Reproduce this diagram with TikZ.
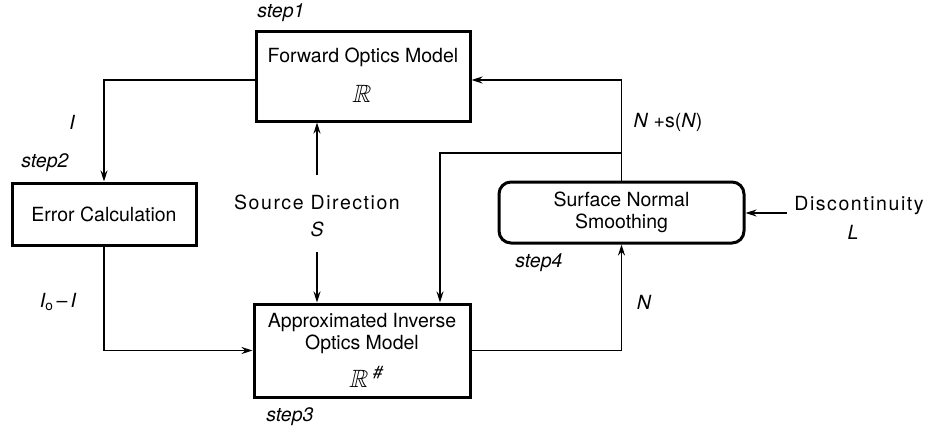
\documentclass[tikz,border=0pt]{standalone}
\usepackage{amssymb}
\usepackage{fontspec}
\setmainfont{TeX Gyre Heros}
\newfontfamily\spaced[LetterSpace=8]{TeX Gyre Heros}
\usetikzlibrary{arrows.meta}
\begin{document}
\begin{tikzpicture}[x=1pt,y=-1pt,
  box/.style={draw,line width=3pt,inner sep=0pt,align=center,
    font=\fontsize{19.5}{22}\selectfont},
  txt/.style={inner sep=0pt,align=center,font=\fontsize{19.5}{22}\selectfont},
  lab/.style={inner sep=0pt,font=\fontsize{19.5}{22}\selectfont\itshape},
  sp/.style={inner sep=0pt,font=\fontsize{19.5}{22}\selectfont\spaced},
  symb/.style={inner sep=0pt,xslant=0.22,font=\fontsize{25}{26}\selectfont},
  conn/.style={line width=1.5pt,-{Stealth[length=11pt,width=7pt]}}]
\useasboundingbox (0,0) rectangle (934,432);
% boxes
\node[box,minimum width=214pt,minimum height=90pt] (fwd) at (363,76) {};
\node[txt] (fwdt) at (363,57) {Forward Optics Model};
\node[symb] (fwdR) at (363,94) {$\mathbb{R}$};
\node[box,minimum width=184pt,minimum height=62pt] (err) at (104,214) {Error Calculation};
\node[box,minimum width=216pt,minimum height=93pt] (inv) at (362,350.5) {};
\node[txt] (invt) at (362,334) {Approximated Inverse\\Optics Model};
\node[symb] (invR) at (367,377) {$\mathbb{R}^{\,\#}$};
\node[box,rounded corners=12pt,minimum width=245pt,minimum height=61pt] (surf) at (621.5,212.5) {Surface Normal\\Smoothing};
% labels
\node[lab] (s1) at (281,13) {step1};
\node[lab] (s2) at (45,163) {step2};
\node[lab] (s3) at (290,417) {step3};
\node[lab] (s4) at (539,263) {step4};
\node[lab] (lI) at (72,122) {I};
\node[txt] (lIo) at (58,302) {\itshape I\textsubscript{\upshape o}\,\upshape–\,\itshape I};
\node[lab] (lN) at (644,302) {N};
\node[txt] (lNs) at (668,122) {\textit{N} +s(\textit{N})};
\node[sp] (src) at (317,202) {Source Direction};
\node[lab] (lS) at (317,229) {S};
\node[sp] (disc) at (859,206) {Discontinuity};
\node[lab] (lL) at (853,232) {L};
% connectors
\coordinate (srcup) at (317,175);
\coordinate (srcdn) at (317,252);
\coordinate (j) at (621.5,153);
\coordinate (jx) at (440,153);
\coordinate (dl) at (787,213);
\draw[conn] ([yshift=-4pt]fwd.west) -| (err.north);
\draw[conn] (err.south) |- (inv.west);
\draw[conn] (inv.east) -| (surf.south);
\draw[conn] (surf.north) |- ([yshift=-4pt]fwd.east);
\draw[conn] (j) -- (jx) -- (jx |- inv.north);
\draw[conn] (srcup) -- (srcup |- fwd.south);
\draw[conn] (srcdn) -- (srcdn |- inv.north);
\draw[conn] (dl) -- (dl -| surf.east);
\end{tikzpicture}
\end{document}
